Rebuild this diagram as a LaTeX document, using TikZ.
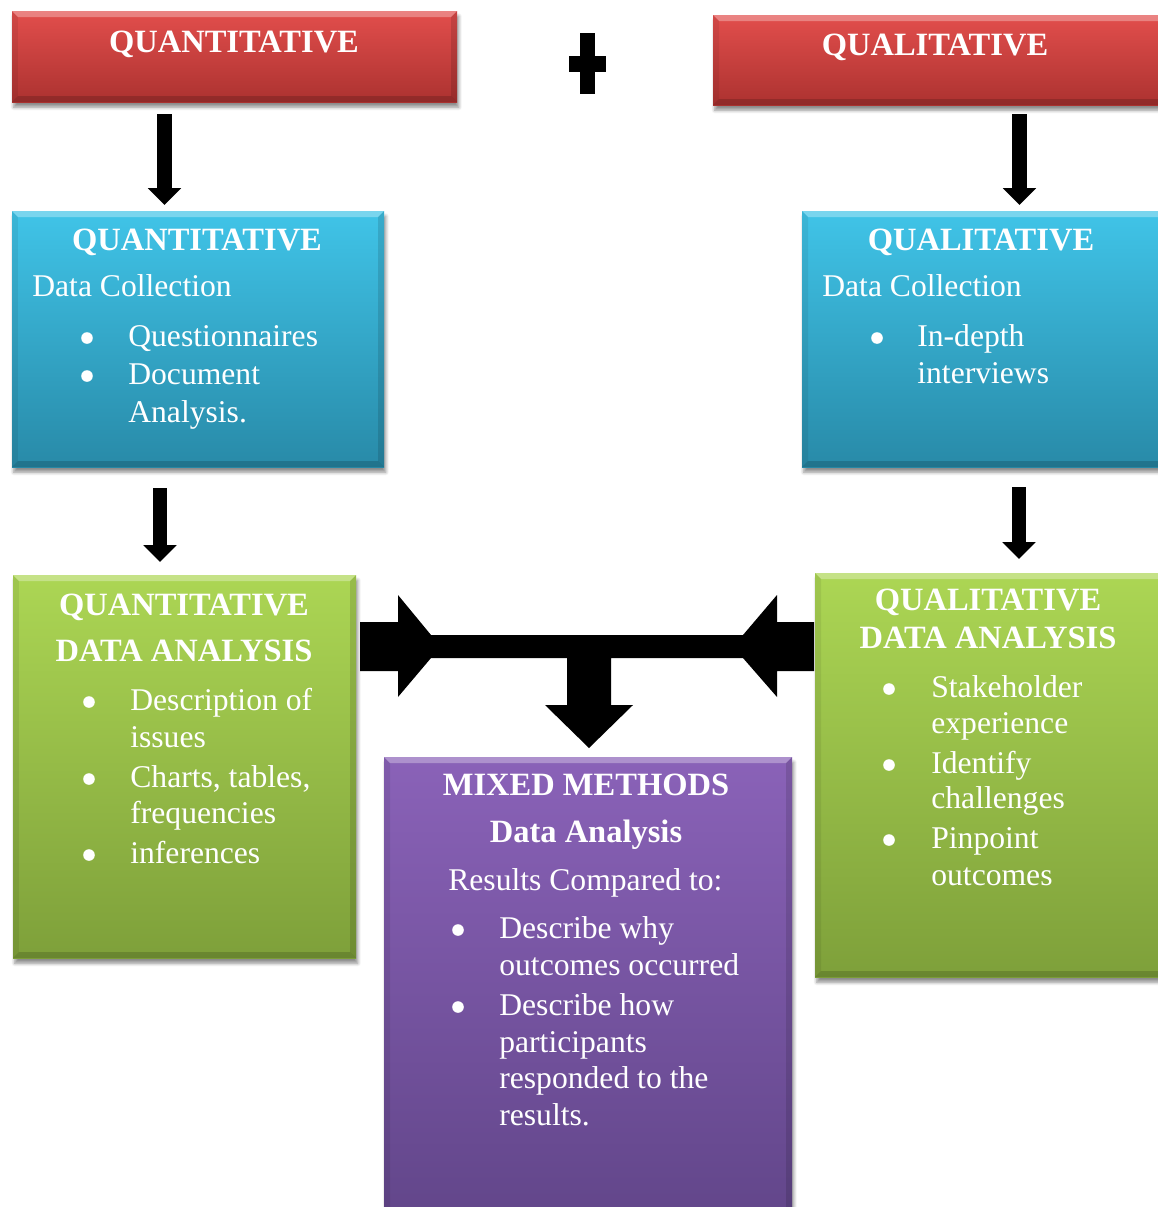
\documentclass[tikz,border=0pt]{standalone}
\usepackage{fontspec}
\setmainfont{Liberation Serif}
\usetikzlibrary{arrows.meta,fit,shadows.blur}
\definecolor{rTop}{RGB}{226,78,76}
\definecolor{rBot}{RGB}{172,50,48}
\definecolor{bTop}{RGB}{64,196,232}
\definecolor{bBot}{RGB}{40,138,168}
\definecolor{gTop}{RGB}{172,214,84}
\definecolor{gBot}{RGB}{126,160,58}
\definecolor{pTop}{RGB}{138,98,184}
\definecolor{pBot}{RGB}{98,70,138}
\newcommand\myhd{\fontsize{18.5}{22}\selectfont\bfseries}
\newcommand\mybd{\fontsize{18}{22}\selectfont}
\newcommand\bv{0.12cm}
\tikzset{
  bevel/.style={path picture={
    \path (path picture bounding box.north west) coordinate (bNW)
          (path picture bounding box.north east) coordinate (bNE)
          (path picture bounding box.south west) coordinate (bSW)
          (path picture bounding box.south east) coordinate (bSE);
    \fill[white,opacity=.30] (bNW) -- (bNE) -- ([shift={(-\bv,-\bv)}]bNE) -- ([shift={(\bv,-\bv)}]bNW) -- cycle;
    \fill[black,opacity=.16] (bSW) -- (bSE) -- ([shift={(-\bv,\bv)}]bSE) -- ([shift={(\bv,\bv)}]bSW) -- cycle;
    \fill[black,opacity=.07] (bNW) -- ([shift={(\bv,-\bv)}]bNW) -- ([shift={(\bv,\bv)}]bSW) -- (bSW) -- cycle;
    \fill[black,opacity=.12] (bNE) -- ([shift={(-\bv,-\bv)}]bNE) -- ([shift={(-\bv,\bv)}]bSE) -- (bSE) -- cycle;
  }},
  box/.style={draw=none, inner sep=0pt,
    blur shadow={shadow xshift=1pt, shadow yshift=-3pt, shadow blur steps=6, shadow opacity=45},
    bevel},
  redbox/.style={box, top color=rTop, bottom color=rBot},
  bluebox/.style={box, top color=bTop, bottom color=bBot},
  greenbox/.style={box, top color=gTop, bottom color=gBot},
  purplebox/.style={box, top color=pTop, bottom color=pBot},
  hd/.style={text=white, font=\myhd, inner sep=0pt, anchor=base},
  bd/.style={text=white, font=\mybd, inner sep=0pt, anchor=base west},
  bul/.style={circle, fill=white, draw=none, inner sep=0pt, minimum size=6.6pt},
  fatarrow/.style={line width=8.3pt, line cap=butt, -{Triangle[width=18.4pt,length=9.6pt]}}
}
\begin{document}
\begin{tikzpicture}[x=0.02cm,y=-0.02cm]
\useasboundingbox (0,0) rectangle (1158,1207);

% ---------- boxes ----------
\node[redbox, fit={(12,11) (457,102)}] (red1) {};
\node[redbox, fit={(713,15) (1166,105)}] (red2) {};
\node[bluebox, fit={(12,211) (384,467)}] (blue1) {};
\node[bluebox, fit={(802,211) (1166,467)}] (blue2) {};
\node[greenbox, fit={(13,575) (356,958)}] (green1) {};
\node[greenbox, fit={(815,573) (1166,977)}] (green2) {};
\node[purplebox, fit={(384,757) (792,1218)}] (purple) {};

% ---------- plus sign ----------
\fill[black] (580,33) rectangle (595,94);
\fill[black] (569,56) rectangle (606,72);

% ---------- vertical arrows ----------
\coordinate (a1s) at (164.5,114);  \coordinate (a1e) at (164.5,205);
\coordinate (a2s) at (1019.5,114); \coordinate (a2e) at (1019.5,205);
\coordinate (a3s) at (160,488);    \coordinate (a3e) at (160,562);
\coordinate (a4s) at (1019,487);   \coordinate (a4e) at (1019,559);
\draw[fatarrow] (a1s) -- (a1e);
\draw[fatarrow] (a2s) -- (a2e);
\draw[fatarrow] (a3s) -- (a3e);
\draw[fatarrow] (a4s) -- (a4e);

% ---------- merging connector ----------
\fill[black] (360,622) -- (398,622) -- (398,595) -- (431,635) -- (743,635)
  -- (777,595) -- (777,622) -- (814,622) -- (814,671) -- (777,671)
  -- (777,697) -- (743,658) -- (611,658) -- (611,705) -- (633,705)
  -- (589,748) -- (545,705) -- (567,705) -- (567,658) -- (431,658)
  -- (398,697) -- (398,671) -- (360,671) -- cycle;

% ---------- texts: red ----------
\node[hd] (r1t) at (234,52) {QUANTITATIVE};
\node[hd] (r2t) at (935,55) {QUALITATIVE};

% ---------- texts: blue left ----------
\node[hd] (b1t) at (197,250) {QUANTITATIVE};
\node[bd] (b1s) at (32,296) {Data Collection};
\node[bul] (b1b1) at (87,338) {};
\node[bul] (b1b2) at (87,376) {};
\node[bd] (b1l1) at (128,346) {Questionnaires};
\node[bd] (b1l2) at (128,384) {Document};
\node[bd] (b1l3) at (128,422) {Analysis.};

% ---------- texts: blue right ----------
\node[hd] (b2t) at (981,250) {QUALITATIVE};
\node[bd] (b2s) at (822,296) {Data Collection};
\node[bul] (b2b1) at (877,338) {};
\node[bd] (b2l1) at (917,346) {In-depth};
\node[bd] (b2l2) at (917,383) {interviews};

% ---------- texts: green left ----------
\node[hd] (g1t1) at (184,615) {QUANTITATIVE};
\node[hd] (g1t2) at (184,661) {DATA ANALYSIS};
\node[bul] (g1b1) at (89,702) {};
\node[bul] (g1b2) at (89,779) {};
\node[bul] (g1b3) at (89,855) {};
\node[bd] (g1l1) at (130,710) {Description of};
\node[bd] (g1l2) at (130,747) {issues};
\node[bd] (g1l3) at (130,787) {Charts, tables,};
\node[bd] (g1l4) at (130,823) {frequencies};
\node[bd] (g1l5) at (130,863) {inferences};

% ---------- texts: green right ----------
\node[hd] (g2t1) at (988,610) {QUALITATIVE};
\node[hd] (g2t2) at (988,648) {DATA ANALYSIS};
\node[bul] (g2b1) at (889,689) {};
\node[bul] (g2b2) at (889,765) {};
\node[bul] (g2b3) at (889,840) {};
\node[bd] (g2l1) at (931,697) {Stakeholder};
\node[bd] (g2l2) at (931,733) {experience};
\node[bd] (g2l3) at (931,773) {Identify};
\node[bd] (g2l4) at (931,808) {challenges};
\node[bd] (g2l5) at (931,848) {Pinpoint};
\node[bd] (g2l6) at (931,885) {outcomes};

% ---------- texts: purple ----------
\node[hd] (pt1) at (586,795) {MIXED METHODS};
\node[hd] (pt2) at (586,842) {Data Analysis};
\node[bd] (ps) at (448,890) {Results Compared to:};
\node[bul] (pb1) at (458,930) {};
\node[bul] (pb2) at (458,1007) {};
\node[bd] (pl1) at (499,938) {Describe why};
\node[bd] (pl2) at (499,975) {outcomes occurred};
\node[bd] (pl3) at (499,1015) {Describe how};
\node[bd] (pl4) at (499,1052) {participants};
\node[bd] (pl5) at (499,1088) {responded to the};
\node[bd] (pl6) at (499,1125) {results.};
\end{tikzpicture}
\end{document}
